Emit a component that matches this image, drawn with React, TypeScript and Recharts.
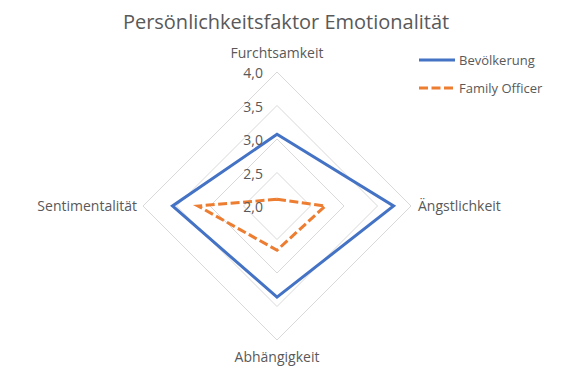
import React from "react";
import { RadarChart, Radar, PolarGrid, PolarAngleAxis, PolarRadiusAxis, Legend } from "recharts";

const categories = ["Furchtsamkeit", "Ängstlichkeit", "Abhängigkeit", "Sentimentalität"];
const bevoelkerung = [3.07, 3.74, 3.36, 3.56];
const familyOfficer = [2.1, 2.72, 2.66, 3.18];
const radiusTicks = [2.0, 2.5, 3.0, 3.5, 4.0];

const data = categories.map((name, i) => ({
  name,
  bev: bevoelkerung[i],
  fo: familyOfficer[i],
}));

const FONT = "'Open Sans', sans-serif";
const TEXT = "#595959";
const CX = 277;
const CY = 206;

const AngleTick = (props: any) => {
  const { x, y, payload, textAnchor } = props;
  let dx = 0;
  let dy = 5;
  if (textAnchor === "middle") {
    dy = y < CY ? -6 : 14;
  } else if (textAnchor === "start") {
    dx = -1;
  } else {
    dx = 2;
  }
  return (
    <text x={x + dx} y={y + dy} textAnchor={textAnchor} fill={TEXT} fontSize={14} fontFamily={FONT}>
      {payload.value}
    </text>
  );
};

const RadiusTick = (props: any) => {
  const { x, y, payload } = props;
  return (
    <text x={x - 14} y={y + 6} textAnchor="end" fill={TEXT} fontSize={14} fontFamily={FONT}>
      {Number(payload.value).toFixed(1).replace(".", ",")}
    </text>
  );
};

const LegendContent = () => (
  <svg width={160} height={50}>
    <line x1={0} y1={12} x2={36} y2={12} stroke="#4472C4" strokeWidth={3} />
    <text x={40} y={17} fill={TEXT} fontSize={13} fontFamily={FONT}>Bevölkerung</text>
    <line x1={0} y1={40} x2={36} y2={40} stroke="#ED7D31" strokeWidth={3} strokeDasharray="9 3.5" />
    <text x={40} y={45} fill={TEXT} fontSize={13} fontFamily={FONT}>Family Officer</text>
  </svg>
);

export default function App() {
  return (
    <div style={{ position: "absolute", left: 0, top: 0, width: 585, height: 390, background: "#fff" }}>
      <svg width={585} height={40} style={{ position: "absolute", left: 0, top: 0 }}>
        <text x={286} y={29} textAnchor="middle" fill={TEXT} fontSize={20} fontFamily={FONT}>
          Persönlichkeitsfaktor Emotionalität
        </text>
      </svg>
      <RadarChart width={585} height={390} data={data} cx={CX} cy={CY} outerRadius={134} margin={{ top: 0, right: 0, bottom: 0, left: 0 }}>
        <PolarGrid gridType="polygon" radialLines={false} stroke="#D9D9D9" strokeWidth={1} />
        <PolarAngleAxis dataKey="name" tick={<AngleTick />} tickLine={false} axisLine={false} />
        <PolarRadiusAxis
          angle={90}
          domain={[2, 4]}
          ticks={radiusTicks}
          tick={<RadiusTick />}
          axisLine={false}
          tickLine={false}
          tickCount={5}
        />
        <Radar
          name="Bevölkerung"
          dataKey="bev"
          stroke="#4472C4"
          strokeWidth={3}
          fill="none"
          fillOpacity={0}
          isAnimationActive={false}
        />
        <Radar
          name="Family Officer"
          dataKey="fo"
          stroke="#ED7D31"
          strokeWidth={3}
          strokeDasharray="9 3.5"
          fill="none"
          fillOpacity={0}
          isAnimationActive={false}
        />
        <Legend content={<LegendContent />} wrapperStyle={{ position: "absolute", left: 419, top: 48, width: 160 }} />
      </RadarChart>
    </div>
  );
}
